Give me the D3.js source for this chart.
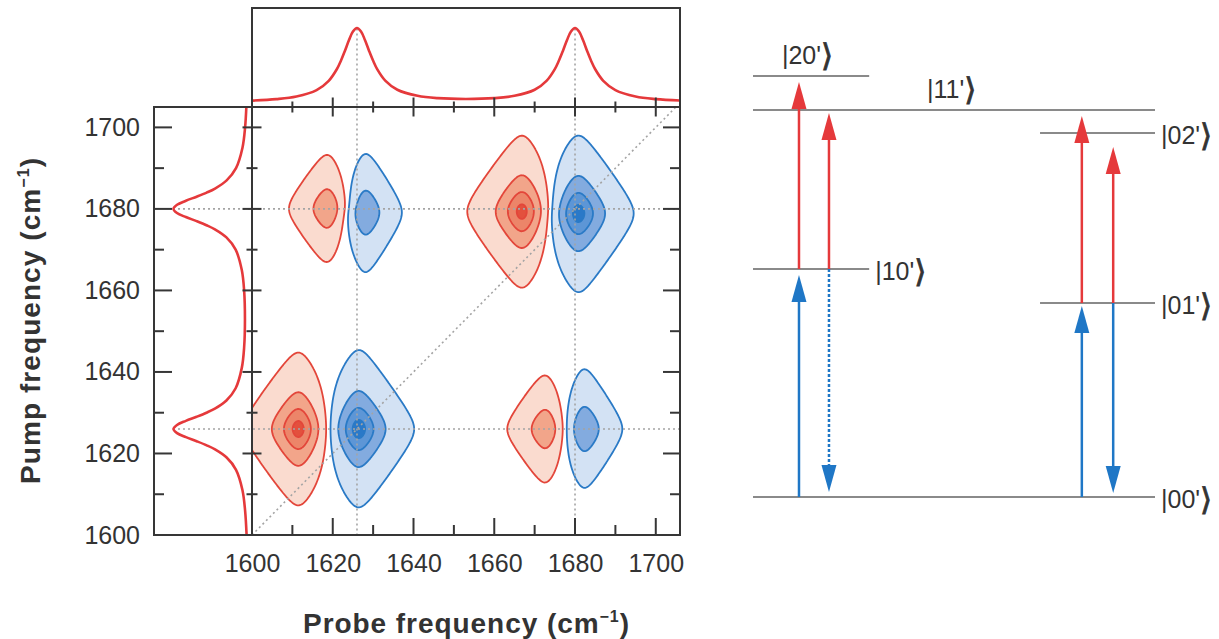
<!DOCTYPE html>
<html><head><meta charset="utf-8">
<script src="https://cdn.jsdelivr.net/npm/d3@7"></script>
<style>body{margin:0;background:#fff}svg{display:block}</style>
</head><body>
<svg id="c" width="1219" height="639"></svg>
<script>
// ---------------- data ----------------
const majorTicks = [1600, 1620, 1640, 1660, 1680, 1700];
const minorTicks = [1610, 1630, 1650, 1670, 1690];
const peakFreqs = [1626, 1680];

// linear absorption spectrum (normalised)
const specFreq = [1600,1606,1611,1616,1619,1621,1622,1623,1624,1625,1626,1627,1628,1629,1630,1631,1633,1636,1641,1646,1653,
                  1660,1665,1670,1673,1675,1676,1677,1678,1679,1680,1681,1682,1683,1684,1685,1687,1690,1695,1700,1706];
const specAbs  = [0.032,0.052,0.087,0.173,0.298,0.453,0.565,0.698,0.841,0.959,1.007,0.960,0.842,0.699,0.567,0.455,0.301,0.178,0.096,0.065,0.054,
                  0.065,0.096,0.178,0.301,0.455,0.567,0.699,0.842,0.960,1.007,0.959,0.841,0.698,0.565,0.453,0.298,0.173,0.087,0.052,0.033];

// 2D-IR lobes: probe / pump centre (cm-1), signed amplitude, half-widths (cm-1)
const lobeProbe = [1611.6, 1626.3, 1667.0, 1680.7, 1618.8, 1628.0, 1672.8, 1682.2];
const lobePump  = [1626.0, 1626.0, 1679.3, 1678.9, 1680.0, 1679.2, 1626.0, 1626.0];
const lobeAmp   = [-1.00, 1.02, -1.00, 1.02, -0.634, 0.67, -0.634, 0.67];
const lobeWidthProbe = [4.45, 4.45, 4.45, 4.45, 3.7, 3.5, 3.7, 3.6];
const lobeWidthPump  = [6.1, 6.2, 6.1, 6.2, 5.2, 5.5, 5.2, 5.5];
const lobeRounding = 0.5;
const contourLevels = [0.069, 0.325, 0.60, 0.855];

// energy level diagram (schematic units)
const levelNames  = ["|00'", "|01'", "|10'", "|02'", "|11'", "|20'"];
const levelEnergy = [0, 1.94, 2.28, 3.64, 3.87, 4.21];
const levelStart  = [0, 0.714, 0, 0.714, 0, 0];
const levelEnd    = [1, 1, 0.289, 1, 1, 0.289];
const levelLabelSide = ["right", "right", "right", "right", "above", "above"];
const levelLabelPos  = [null, null, null, null, 0.433, 0.072];

const transCol   = [0.1144, 0.1144, 0.189, 0.189, 0.818, 0.818, 0.896, 0.896];
const transFrom  = [0, 2.28, 2.28, 2.28, 0, 1.94, 1.94, 1.94];
const transTo    = [2.22, 4.15, 3.84, 0.05, 1.91, 3.81, 3.50, 0.04];
const transColor = ["blue", "red", "red", "blue", "blue", "red", "red", "blue"];
const transDash  = [false, false, false, true, false, false, false, false];

// ---------------- drawing ----------------
const svg = d3.select("#c");
const FONT = "'Liberation Sans', Arial, Helvetica, sans-serif";
const FRAME = "#363636";
const RED = "#e5393b", BLUE = "#1f77c6";

const x = d3.scaleLinear().domain([1600, 1706]).range([252, 680]);
const y = d3.scaleLinear().domain([1600, 1705]).range([535, 107]);
const topY = d3.scaleLinear().domain([0, 1]).range([103, 28.5]);
const leftX = d3.scaleLinear().domain([0, 1]).range([249, 174]);

const X0 = x.range()[0], X1 = x.range()[1], Y0 = y.range()[0], Y1 = y.range()[1];
const TOP0 = 8, LEFT0 = 154;

const defs = svg.append("defs");
defs.append("clipPath").attr("id", "clipMain").append("rect")
  .attr("x", X0).attr("y", Y1).attr("width", X1 - X0).attr("height", Y0 - Y1);
defs.append("clipPath").attr("id", "clipTop").append("rect")
  .attr("x", X0).attr("y", TOP0).attr("width", X1 - X0).attr("height", Y1 - TOP0);
defs.append("clipPath").attr("id", "clipLeft").append("rect")
  .attr("x", LEFT0).attr("y", Y1).attr("width", X0 - LEFT0).attr("height", Y0 - Y1);

// ----- 2D field -----
const step = 0.25, g0 = 1586, g1 = 1714;
const n = Math.round((g1 - g0) / step) + 1;
const field = new Float64Array(n * n), neg = new Float64Array(n * n);
const dl = lobeRounding;
const S = t => Math.sqrt(t * t + dl * dl) - dl;
for (let j = 0; j < n; j++) {
  const pump = g0 + j * step;
  for (let i = 0; i < n; i++) {
    const probe = g0 + i * step;
    let v = 0;
    for (let k = 0; k < lobeAmp.length; k++) {
      const u = (probe - lobeProbe[k]) / lobeWidthProbe[k];
      const w = (pump - lobePump[k]) / lobeWidthPump[k];
      v += lobeAmp[k] * Math.exp(-(S(u) + S(w)));
    }
    field[j * n + i] = v; neg[j * n + i] = -v;
  }
}
const proj = d3.geoTransform({point: function(px, py) {
  this.stream.point(x(g0 + (px - 0.5) * step), y(g0 + (py - 0.5) * step));
}});
const gpath = d3.geoPath(proj);
const contours = d3.contours().size([n, n]).thresholds(contourLevels);

const redFills = ["#fadbcf", "#f2a58a", "#ec8569", "#e3503d"];
const blueFills = ["#d3e2f4", "#83abdf", "#5d96d6", "#2a79c8"];

const gc = svg.append("g").attr("clip-path", "url(#clipMain)");
function drawSet(values, fills, strokeCol) {
  const cs = contours(values);
  gc.append("g").selectAll("path").data(cs).join("path")
    .attr("d", gpath)
    .attr("fill", (d, i) => fills[i])
    .attr("stroke", strokeCol).attr("stroke-width", 1.8).attr("stroke-linejoin", "round");
}
drawSet(neg, redFills, "#e3463a");
drawSet(field, blueFills, "#2a7ac6");

// ----- dotted guides -----
const guide = svg.append("g").attr("stroke", "#a4a4a4").attr("stroke-width", 1.6)
  .attr("stroke-dasharray", "2,3").attr("fill", "none");
guide.selectAll("line.v").data(peakFreqs).join("line").attr("class", "v")
  .attr("x1", d => x(d)).attr("x2", d => x(d)).attr("y1", topY(1.0)).attr("y2", Y0);
guide.selectAll("line.h").data(peakFreqs).join("line").attr("class", "h")
  .attr("y1", d => y(d)).attr("y2", d => y(d)).attr("x1", leftX(1.0) + 4).attr("x2", X1);
guide.append("line").attr("x1", x(1600)).attr("y1", y(1600)).attr("x2", x(1705)).attr("y2", y(1705))
  .attr("clip-path", "url(#clipMain)");

// ----- side spectra -----
const specPts = specFreq.map((f, i) => [f, specAbs[i]]);
svg.append("path").attr("clip-path", "url(#clipTop)")
  .attr("d", d3.line().x(d => x(d[0])).y(d => topY(d[1])).curve(d3.curveCatmullRom)(specPts))
  .attr("fill", "none").attr("stroke", RED).attr("stroke-width", 2.6);
svg.append("path").attr("clip-path", "url(#clipLeft)")
  .attr("d", d3.line().y(d => y(d[0])).x(d => leftX(d[1])).curve(d3.curveCatmullRom)(specPts))
  .attr("fill", "none").attr("stroke", RED).attr("stroke-width", 2.6);

// ----- frames -----
const frames = svg.append("g").attr("fill", "none").attr("stroke", FRAME).attr("stroke-width", 2);
frames.append("rect").attr("x", X0).attr("y", Y1).attr("width", X1 - X0).attr("height", Y0 - Y1);
frames.append("rect").attr("x", X0).attr("y", TOP0).attr("width", X1 - X0).attr("height", Y1 - TOP0);
frames.append("rect").attr("x", LEFT0).attr("y", Y1).attr("width", X0 - LEFT0).attr("height", Y0 - Y1);

// ----- ticks -----
const tk = svg.append("g").attr("stroke", FRAME).attr("stroke-width", 2);
const xt = majorTicks.filter(v => v > 1600).map(v => [v, 1]).concat(minorTicks.map(v => [v, 0]));
const yt = xt;
tk.selectAll("line.b").data(xt).join("line").attr("class", "b")
  .attr("x1", d => x(d[0])).attr("x2", d => x(d[0])).attr("y1", Y0).attr("y2", d => Y0 - (d[1] ? 17 : 10));
tk.selectAll("line.t").data(xt).join("line").attr("class", "t")
  .attr("x1", d => x(d[0])).attr("x2", d => x(d[0]))
  .attr("y1", d => Y1 - (d[1] ? 9.5 : 5.5)).attr("y2", d => Y1 + (d[1] ? 9.5 : 5.5));
tk.selectAll("line.r").data(yt).join("line").attr("class", "r")
  .attr("y1", d => y(d[0])).attr("y2", d => y(d[0])).attr("x1", X1).attr("x2", d => X1 - (d[1] ? 17 : 10));
tk.selectAll("line.l").data(yt).join("line").attr("class", "l")
  .attr("y1", d => y(d[0])).attr("y2", d => y(d[0]))
  .attr("x1", d => X0 - (d[1] ? 9.5 : 5.5)).attr("x2", d => X0 + (d[1] ? 9.5 : 5.5));
tk.selectAll("line.ll").data(yt).join("line").attr("class", "ll")
  .attr("y1", d => y(d[0])).attr("y2", d => y(d[0])).attr("x1", LEFT0).attr("x2", d => LEFT0 + (d[1] ? 18 : 10));

// ----- tick labels via axes -----
const ax = svg.append("g").attr("transform", `translate(0,${Y0})`)
  .call(d3.axisBottom(x).tickValues(majorTicks).tickSize(0).tickPadding(19).tickFormat(d3.format("d")));
const ay = svg.append("g").attr("transform", `translate(${LEFT0},0)`)
  .call(d3.axisLeft(y).tickValues(majorTicks).tickSize(0).tickPadding(14).tickFormat(d3.format("d")));
[ax, ay].forEach(g => {
  g.select(".domain").remove();
  g.selectAll("text").attr("font-family", FONT).attr("font-size", 25).attr("fill", "#333");
});

// ----- axis titles -----
function title(g, label) {
  const t = g.append("text").attr("font-family", FONT).attr("font-weight", "bold").attr("font-size", 28)
    .attr("fill", "#333").attr("text-anchor", "middle").attr("textLength", 326).attr("lengthAdjust", "spacing");
  t.append("tspan").text(label + " (cm");
  t.append("tspan").attr("font-size", 16).attr("dy", -11).text("\u22121");
  t.append("tspan").attr("dy", 11).text(")");
}
title(svg.append("g").attr("transform", `translate(${(X0 + X1) / 2},633)`), "Probe frequency");
title(svg.append("g").attr("transform", `translate(40,${(Y0 + Y1) / 2}) rotate(-90)`), "Pump frequency");

// ----- energy level diagram -----
const eX = d3.scaleLinear().domain([0, 1]).range([753, 1155]);
const eY = d3.scaleLinear().domain([0, 4.21]).range([497, 76]);
const ed = svg.append("g");
ed.selectAll("line.lvl").data(levelEnergy).join("line").attr("class", "lvl")
  .attr("x1", (d, i) => eX(levelStart[i])).attr("x2", (d, i) => eX(levelEnd[i]))
  .attr("y1", d => eY(d)).attr("y2", d => eY(d))
  .attr("stroke", "#8a8a8a").attr("stroke-width", 2);

const lbl = ed.selectAll("text.lbl").data(levelNames).join("text").attr("class", "lbl")
  .attr("font-family", FONT).attr("font-size", 25).attr("fill", "#333")
  .attr("x", (d, i) => levelLabelSide[i] === "right" ? eX(levelEnd[i]) + 6 : eX(levelLabelPos[i]))
  .attr("y", (d, i) => levelLabelSide[i] === "right" ? eY(levelEnergy[i]) + 11 : eY(levelEnergy[i]) - 12);
lbl.append("tspan").text(d => d);
lbl.append("tspan").attr("font-family", "'DejaVu Sans'").attr("font-size", 31).attr("dy", 2)
  .attr("stroke", "#333").attr("stroke-width", 0.8).text("\u27E9");

const colorOf = c => c === "red" ? RED : BLUE;
const HEAD = 27, HW = 7.5;
transCol.forEach((c, i) => {
  const xx = eX(c), ys = eY(transFrom[i]), yt2 = eY(transTo[i]);
  const dir = yt2 < ys ? -1 : 1;
  const base = yt2 - dir * HEAD;
  ed.append("line").attr("x1", xx).attr("x2", xx).attr("y1", ys).attr("y2", base)
    .attr("stroke", colorOf(transColor[i])).attr("stroke-width", 2.5)
    .attr("stroke-dasharray", transDash[i] ? "3,2" : null);
  ed.append("path").attr("d", `M${xx},${yt2}L${xx - HW},${base}L${xx + HW},${base}Z`)
    .attr("fill", colorOf(transColor[i]));
});
</script>
</body></html>
